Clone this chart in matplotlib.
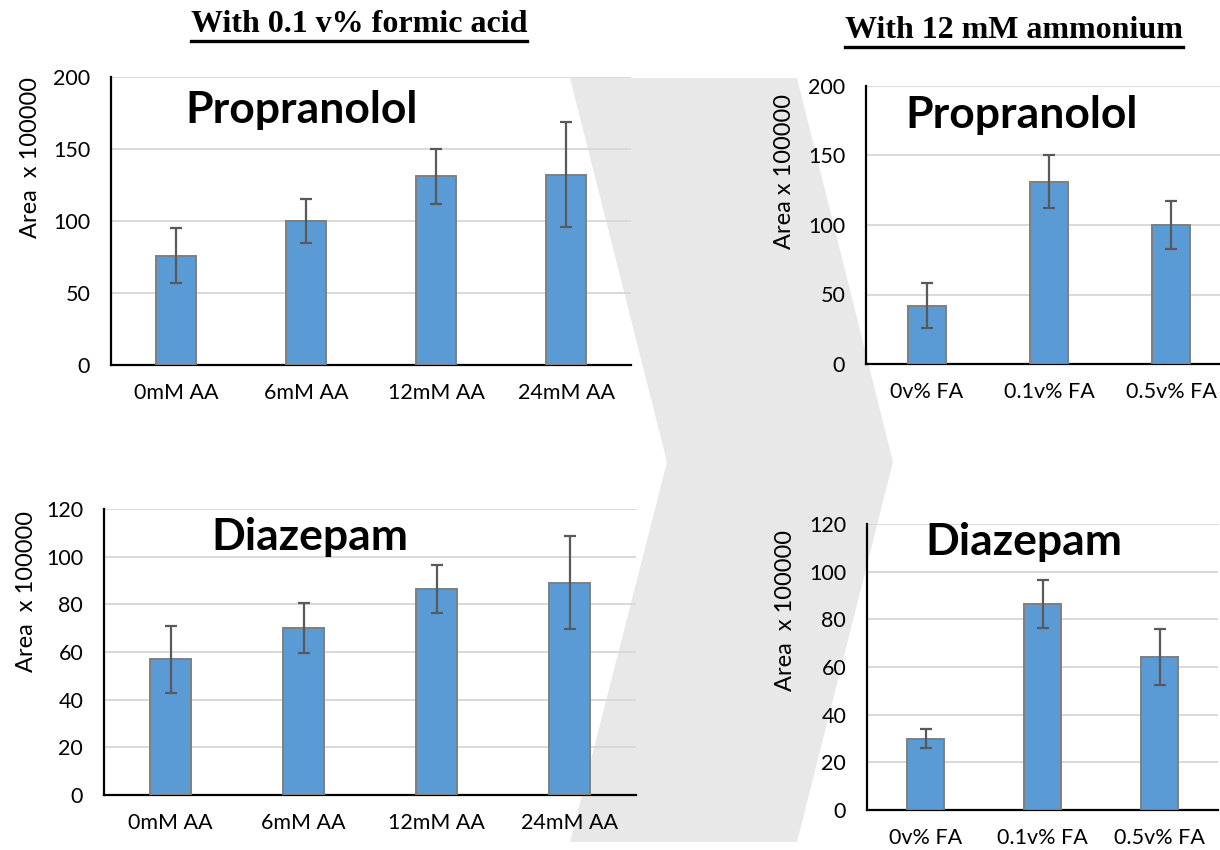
import matplotlib.pyplot as plt
from matplotlib.patches import Polygon
from matplotlib.lines import Line2D

# categories
aa_labels = ["0mM AA", "6mM AA", "12mM AA", "24mM AA"]
fa_labels = ["0v% FA", "0.1v% FA", "0.5v% FA"]

# with 0.1 v% formic acid, varying ammonium acetate
prop_aa = [76, 100, 131, 132]
prop_aa_err = [19, 15, 19, 36.5]
diaz_aa = [57, 70, 86.5, 89]
diaz_aa_err = [14, 10.5, 10, 19.5]

# with 12 mM ammonium, varying formic acid
prop_fa = [42, 131, 100]
prop_fa_err = [16, 19, 17.5]
diaz_fa = [30, 86.5, 64]
diaz_fa_err = [4, 10, 11.75]

W, H = 1220, 850
BAR = "#5b9bd5"
FONT = "Lato"

fig = plt.figure(figsize=(W / 100, H / 100), dpi=100)
fig.patch.set_facecolor("white")


def px_rect(x0, y0, x1, y1):
    # pixel box (top-left origin) -> figure fraction rect
    return [x0 / W, 1 - y1 / H, (x1 - x0) / W, (y1 - y0) / H]


def draw_panel(rect, labels, values, errs, ymax, ystep, name, name_xy,
               ylabel, ylabel_xy):
    ax = fig.add_axes(rect)
    ax.set_facecolor("none")
    x = list(range(len(labels)))
    ax.bar(x, values, width=0.31, color=BAR, edgecolor="#7f7f7f",
           linewidth=1.4, zorder=3)
    ax.errorbar(x, values, yerr=errs, fmt="none", ecolor="#595959",
                elinewidth=1.6, capsize=4.5, capthick=1.6, zorder=4)
    ax.set_xlim(-0.5, len(labels) - 0.5)
    ax.set_ylim(0, ymax)
    ax.set_yticks(range(0, ymax + 1, ystep))
    ax.set_xticks(x)
    ax.set_xticklabels(labels)
    ax.yaxis.grid(True, color="#d9d9d9", linewidth=1.4, zorder=0)
    ax.set_axisbelow(True)
    for s in ["top", "right"]:
        ax.spines[s].set_visible(False)
    for s in ["left", "bottom"]:
        ax.spines[s].set_color("black")
        ax.spines[s].set_linewidth(1.6)
    ax.tick_params(axis="both", length=0, labelsize=15.5, colors="black")
    ax.tick_params(axis="y", pad=15)
    ax.tick_params(axis="x", pad=13)
    for lab in ax.get_xticklabels() + ax.get_yticklabels():
        lab.set_fontfamily(FONT)
    ax.text(ylabel_xy[0], ylabel_xy[1], ylabel, transform=ax.transAxes,
            rotation=90, ha="center", va="center", fontsize=17, family=FONT)
    ax.text(name_xy[0], name_xy[1], name, transform=ax.transAxes,
            ha="center", va="center", fontsize=32, fontweight="bold",
            family=FONT, zorder=5)
    return ax


# grey chevron behind the panels
chevron_px = [(570, 78), (797, 78), (893, 462), (797, 842), (570, 842), (667, 462)]
chevron = Polygon([(px / W, 1 - py / H) for px, py in chevron_px],
                  closed=True, transform=fig.transFigure,
                  facecolor="#e8e8e8", edgecolor="none", zorder=-1)
fig.patches.append(chevron)

draw_panel(px_rect(111, 77, 631, 365), aa_labels, prop_aa, prop_aa_err,
           200, 50, "Propranolol", (0.367, 0.885),
           "Area  x 100000", (-0.154, 0.719))
draw_panel(px_rect(866, 86, 1232, 364), fa_labels, prop_fa, prop_fa_err,
           200, 50, "Propranolol", (0.426, 0.896),
           "Area x 100000", (-0.224, 0.691))
draw_panel(px_rect(104, 509, 636, 795), aa_labels, diaz_aa, diaz_aa_err,
           120, 20, "Diazepam", (0.387, 0.902),
           "Area  x 100000", (-0.145, 0.710))
draw_panel(px_rect(867, 524, 1218, 810), fa_labels, diaz_fa, diaz_fa_err,
           120, 20, "Diazepam", (0.447, 0.937),
           "Area  x 100000", (-0.231, 0.696))

# underlined headers
headers = [("With 0.1 v% formic acid", 359, 25), ("With 12 mM ammonium", 1014, 31)]
renderer = fig.canvas.get_renderer()
for txt, cx, cy in headers:
    t = fig.text(cx / W, 1 - cy / H, txt, ha="center", va="center",
                 fontsize=23, fontweight="bold", family="Liberation Serif")
    bb = t.get_window_extent(renderer=renderer)
    yline = bb.y0 - 1
    fig.add_artist(Line2D([bb.x0 / W, bb.x1 / W], [yline / H, yline / H],
                          transform=fig.transFigure, color="black", linewidth=2.4))

fig.savefig("out.png", dpi=100)
